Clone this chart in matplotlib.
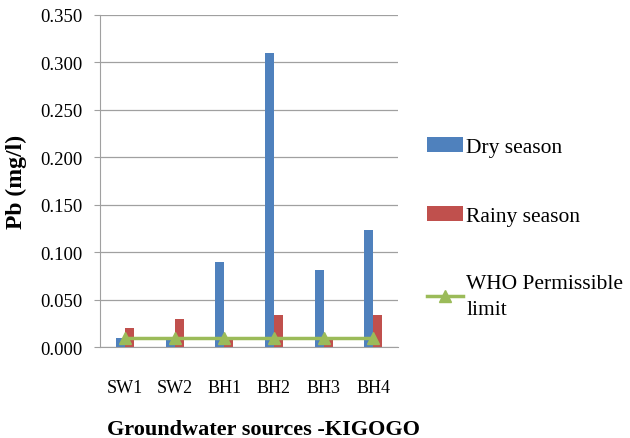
import matplotlib.pyplot as plt
import numpy as np

# Données
sources = ["SW1", "SW2", "BH1", "BH2", "BH3", "BH4"]
dry_season = [0.010, 0.010, 0.090, 0.310, 0.081, 0.123]
rainy_season = [0.020, 0.030, 0.008, 0.034, 0.008, 0.034]
who_limit = [0.010, 0.010, 0.010, 0.010, 0.010, 0.010]

plt.rcParams['font.family'] = ['Liberation Serif', 'DejaVu Serif']

fig = plt.figure(figsize=(6.3, 4.39), dpi=100)
ax = fig.add_axes([0.159, 0.207, 0.473, 0.757])

x = np.arange(len(sources))
w = 0.18
b1 = ax.bar(x - w / 2, dry_season, w, color="#4F81BD", label="Dry season", zorder=2)
b2 = ax.bar(x + w / 2, rainy_season, w, color="#C0504D", label="Rainy season", zorder=2)
l1, = ax.plot(x, who_limit, color="#9BBB59", lw=2.5, marker="^", markersize=8,
              label="WHO Permissible\nlimit", zorder=3)

ax.set_xlim(-0.5, len(sources) - 0.5)
ax.set_ylim(0, 0.35)
ticks = np.arange(0, 0.351, 0.05)
ax.set_yticks(ticks)
ax.set_yticklabels([f"{v:.3f}" for v in ticks])
ax.set_xticks(x)
ax.set_xticklabels(sources)
ax.tick_params(axis="y", length=4, color="#A0A0A0", labelsize=13.5, pad=9)
ax.tick_params(axis="x", length=0, labelsize=13, pad=23)
ax.grid(axis="y", color="#A0A0A0", lw=0.9, zorder=0)
for s in ["top", "right"]:
    ax.spines[s].set_visible(False)
ax.spines["left"].set_color("#A0A0A0")
ax.spines["bottom"].set_color("#A0A0A0")

ax.set_ylabel("Pb (mg/l)", fontsize=17, fontweight="bold")
ax.yaxis.set_label_coords(-0.245, 0.5)
ax.set_xlabel("Groundwater sources -KIGOGO", fontsize=16, fontweight="bold")
ax.xaxis.set_label_coords(0.547, -0.215)

leg = fig.legend([b1, b2, l1], ["Dry season", "Rainy season", "WHO Permissible\nlimit"],
                 loc="upper left", bbox_to_anchor=(0.678, 0.685), frameon=False,
                 borderpad=0, borderaxespad=0, fontsize=15.5, labelspacing=2.25,
                 handlelength=1.67, handletextpad=0.15)
for t in leg.get_texts():
    t.set_linespacing(1.45)

fig.savefig("out.png", dpi=100)
